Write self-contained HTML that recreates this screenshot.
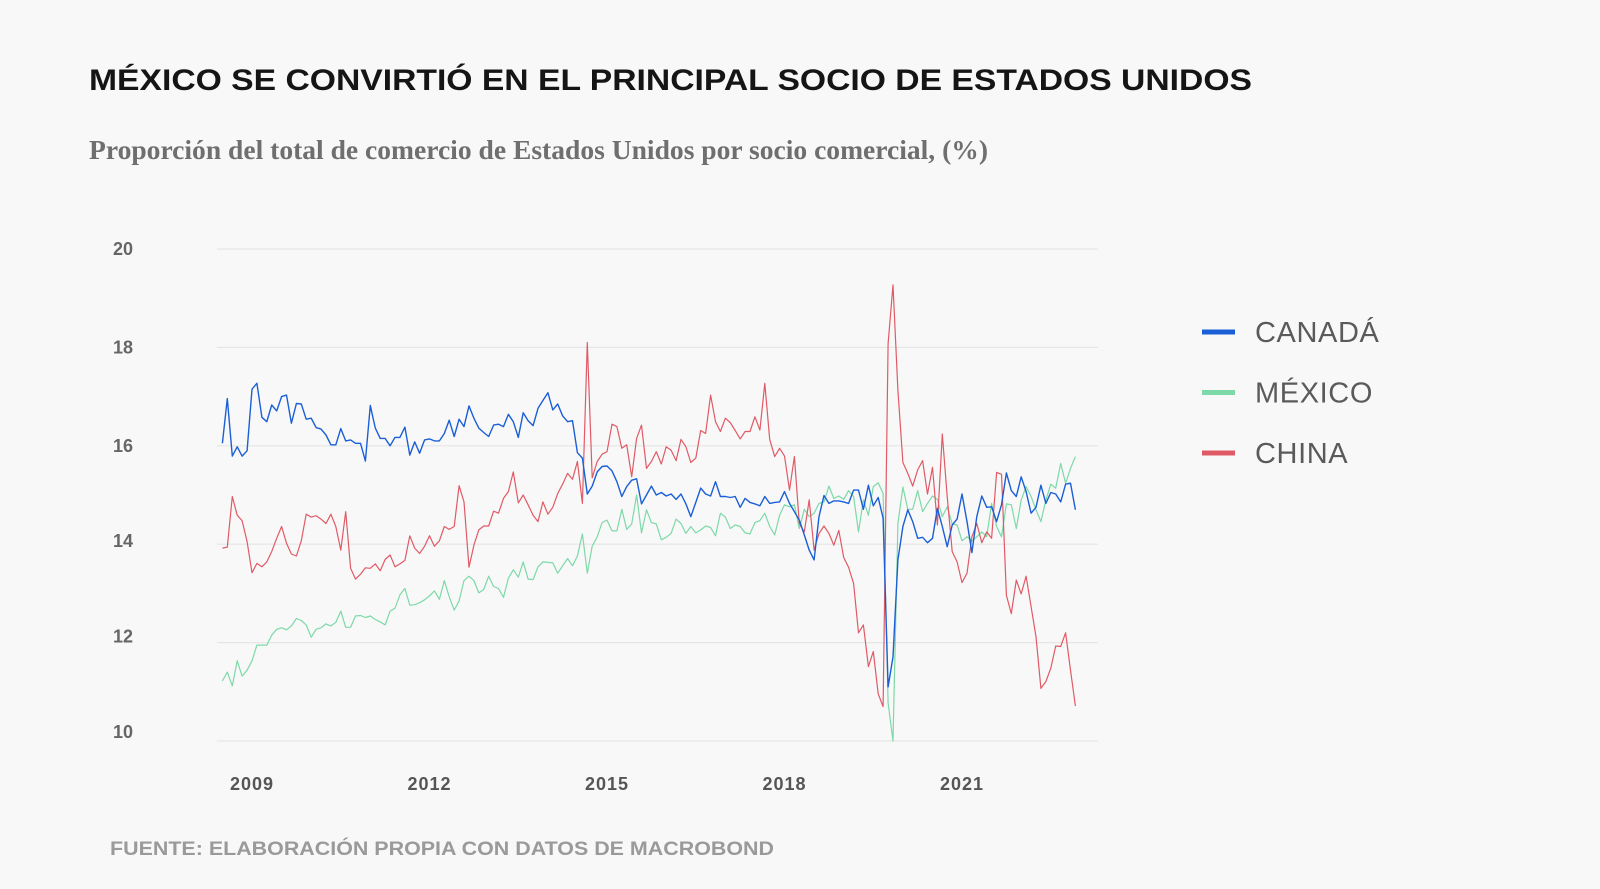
<!DOCTYPE html>
<html><head><meta charset="utf-8"><style>
html,body{margin:0;padding:0;background:#f8f8f8;}
svg{display:block;}
</style></head><body>
<svg id="chart" width="1600" height="889" viewBox="0 0 1600 889" xmlns="http://www.w3.org/2000/svg">
<rect width="1600" height="889" fill="#f8f8f8"/>
<text x="89" y="90" font-family="Liberation Sans, sans-serif" font-weight="bold" font-size="30" fill="#151515" textLength="1163" lengthAdjust="spacingAndGlyphs">MÉXICO SE CONVIRTIÓ EN EL PRINCIPAL SOCIO DE ESTADOS UNIDOS</text>
<text x="89" y="159" font-family="Liberation Serif, serif" font-weight="bold" font-size="27" fill="#6f6f6f" textLength="899" lengthAdjust="spacingAndGlyphs">Proporción del total de comercio de Estados Unidos por socio comercial, (%)</text>
<text x="110" y="855" font-family="Liberation Sans, sans-serif" font-weight="bold" font-size="19" fill="#9a9a9a" textLength="664" lengthAdjust="spacingAndGlyphs">FUENTE: ELABORACIÓN PROPIA CON DATOS DE MACROBOND</text>
<g id="grid"></g><g id="yticks"></g><g id="xticks"></g><g id="lines"></g><g id="legend"></g>
</svg>
<script>
const seriesNames = ["CANADÁ","MÉXICO","CHINA"];
const seriesColors = ["#1a5fd6","#7dd9a8","#e05a66"];
const yTicks = [10,12,14,16,18,20];
const xTickYears = [2009,2012,2015,2018,2021];
const startYear = 2008.5;
const canada = [16.05,16.96,15.79,15.98,15.79,15.90,17.15,17.27,16.58,16.49,16.83,16.71,17.00,17.03,16.46,16.86,16.85,16.54,16.56,16.37,16.34,16.22,16.02,16.02,16.35,16.10,16.12,16.05,16.05,15.69,16.82,16.36,16.15,16.15,16.00,16.17,16.17,16.38,15.81,16.08,15.85,16.12,16.14,16.10,16.10,16.25,16.52,16.19,16.54,16.39,16.81,16.56,16.36,16.27,16.19,16.42,16.44,16.39,
16.64,16.49,16.17,16.67,16.51,16.41,16.76,16.92,17.08,16.73,16.85,16.61,16.49,16.51,15.86,15.75,15.02,15.18,15.47,15.58,15.59,15.49,15.27,14.97,15.17,15.30,15.33,14.82,15.00,15.18,15.00,15.05,14.98,15.02,14.91,15.02,14.82,14.56,14.85,15.14,15.02,14.98,15.27,14.97,14.97,14.95,14.97,14.75,14.93,14.85,14.82,14.78,14.97,14.83,14.85,14.86,15.07,14.83,14.66,
14.49,14.19,13.88,13.68,14.56,14.99,14.83,14.88,14.88,14.86,14.83,15.10,15.10,14.71,15.20,14.78,14.95,14.53,11.10,11.71,13.68,14.36,14.70,14.46,14.12,14.14,14.03,14.12,14.73,14.36,13.95,14.39,14.51,15.02,14.46,13.83,14.56,14.98,14.75,14.76,14.46,14.80,15.45,15.09,14.97,15.37,15.07,14.63,14.75,15.20,14.83,15.05,15.02,14.86,15.22,15.24,14.70];
const mexico = [11.22,11.40,11.12,11.63,11.32,11.44,11.63,11.95,11.95,11.95,12.15,12.27,12.30,12.26,12.34,12.49,12.45,12.36,12.11,12.27,12.30,12.38,12.34,12.41,12.64,12.31,12.31,12.54,12.55,12.51,12.54,12.47,12.42,12.36,12.64,12.70,12.97,13.10,12.76,12.77,12.81,12.87,12.95,13.05,12.88,13.26,12.93,12.66,12.85,13.26,13.35,13.26,13.01,13.08,13.35,13.14,13.10,12.92,
13.31,13.48,13.33,13.64,13.29,13.28,13.54,13.64,13.63,13.62,13.41,13.56,13.71,13.56,13.76,14.21,13.41,13.96,14.15,14.44,14.49,14.27,14.27,14.71,14.30,14.41,15.00,14.23,14.70,14.44,14.41,14.09,14.14,14.22,14.51,14.42,14.22,14.36,14.23,14.29,14.37,14.34,14.17,14.63,14.55,14.32,14.39,14.36,14.23,14.21,14.44,14.48,14.63,14.36,14.19,14.59,14.80,14.76,14.80,
14.32,14.71,14.56,14.63,14.83,14.86,15.18,14.93,14.98,14.91,15.09,14.97,14.25,14.90,14.59,15.17,15.25,15.03,10.77,10.00,14.42,15.16,14.71,14.71,15.09,14.66,14.83,14.98,14.91,14.56,14.76,14.41,14.39,14.07,14.15,14.07,14.15,14.25,14.15,14.83,14.36,14.15,14.82,14.80,14.32,14.90,15.17,14.97,14.70,14.46,14.90,15.22,15.14,15.64,15.24,15.54,15.78];
const china = [13.92,13.94,14.97,14.59,14.48,14.05,13.42,13.61,13.54,13.64,13.85,14.12,14.36,14.02,13.80,13.76,14.07,14.61,14.55,14.58,14.51,14.42,14.61,14.36,13.88,14.66,13.51,13.29,13.39,13.52,13.51,13.60,13.46,13.69,13.78,13.54,13.60,13.67,14.17,13.92,13.81,13.96,14.17,13.96,14.07,14.36,14.30,14.36,15.19,14.86,13.53,13.98,14.29,14.37,14.37,14.67,14.63,14.93,
15.07,15.47,14.84,15.00,14.80,14.59,14.46,14.86,14.61,14.75,15.03,15.22,15.44,15.32,15.68,14.83,18.10,15.35,15.68,15.83,15.88,16.44,16.39,15.95,16.02,15.37,16.15,16.42,15.54,15.68,15.88,15.63,15.98,15.91,15.70,16.13,15.98,15.66,15.75,16.31,16.25,17.03,16.49,16.29,16.56,16.47,16.31,16.14,16.29,16.29,16.59,16.32,17.27,16.13,15.78,15.95,15.79,15.10,15.78,
14.42,14.25,14.90,13.88,14.22,14.37,14.22,13.98,14.28,13.73,13.53,13.20,12.20,12.36,11.51,11.82,10.96,10.70,18.08,19.27,17.13,15.66,15.44,15.18,15.51,15.70,15.02,15.56,14.39,16.24,14.97,13.85,13.64,13.22,13.41,14.15,14.42,14.03,14.25,14.12,15.46,15.42,12.96,12.59,13.27,12.99,13.35,12.73,12.12,11.07,11.21,11.48,11.93,11.92,12.20,11.44,10.71];
const seriesData = [canada, mexico, china];

const NS = "http://www.w3.org/2000/svg";
const yScale = v => 741 - (v - 10) * 49.2;
const xScale = yr => 252 + (yr - 2009) * 59.17;
const xIdx = i => xScale(startYear + i / 12);

const grid = document.getElementById('grid');
const yt = document.getElementById('yticks');
yTicks.forEach(t => {
  const l = document.createElementNS(NS,'line');
  
  
  l.setAttribute('x1',217); l.setAttribute('x2',1098);
  l.setAttribute('y1',yScale(t)); l.setAttribute('y2',yScale(t));
  l.setAttribute('stroke','#e6e6e6'); l.setAttribute('stroke-width','1.2');
  grid.appendChild(l);
  const tx = document.createElementNS(NS,'text');
  
  
  tx.setAttribute('x',113); tx.setAttribute('y',yScale(t) + 6 - (t<=14 ? (16-t)*1.5 : 0));
  tx.setAttribute('font-family','Liberation Sans, sans-serif');
  tx.setAttribute('font-weight','bold'); tx.setAttribute('font-size','18');
  tx.setAttribute('fill','#666');
  tx.textContent = t;
  yt.appendChild(tx);
});
const xt = document.getElementById('xticks');
xTickYears.forEach(y => {
  const tx = document.createElementNS(NS,'text');
  
  
  tx.setAttribute('x',xScale(y)); tx.setAttribute('y',790);
  tx.setAttribute('text-anchor','middle');
  tx.setAttribute('font-family','Liberation Sans, sans-serif');
  tx.setAttribute('font-weight','bold'); tx.setAttribute('font-size','18');
  tx.setAttribute('letter-spacing','1');
  tx.setAttribute('fill','#555');
  tx.textContent = y;
  xt.appendChild(tx);
});
const lines = document.getElementById('lines');
[1,2,0].forEach(s => {
  const d = seriesData[s].map((v,i) => (i?'L':'M') + xIdx(i).toFixed(1) + ' ' + yScale(v).toFixed(1)).join(' ');
  const p = document.createElementNS(NS,'path');
  
  
  p.setAttribute('d', d); p.setAttribute('fill','none');
  p.setAttribute('stroke', seriesColors[s]);
  p.setAttribute('stroke-width', s===0 ? '1.4' : '1.2');
  p.setAttribute('stroke-linejoin','round');
  lines.appendChild(p);
});
const lg = document.getElementById('legend');
seriesNames.forEach((n,k) => {
  const cy = 332 + k * 60.5;
  const l = document.createElementNS(NS,'line');
  
  
  l.setAttribute('x1',1202); l.setAttribute('x2',1235);
  l.setAttribute('y1',cy); l.setAttribute('y2',cy);
  l.setAttribute('stroke',seriesColors[k]); l.setAttribute('stroke-width','5');
  lg.appendChild(l);
  const tx = document.createElementNS(NS,'text');
  
  
  tx.setAttribute('x',1255); tx.setAttribute('y',cy+10);
  tx.setAttribute('font-family','Liberation Sans, sans-serif');
  tx.setAttribute('font-size','29'); tx.setAttribute('letter-spacing','0.6');
  tx.setAttribute('fill','#5a5a5a');
  tx.textContent = n;
  lg.appendChild(tx);
});
</script>
</body></html>
